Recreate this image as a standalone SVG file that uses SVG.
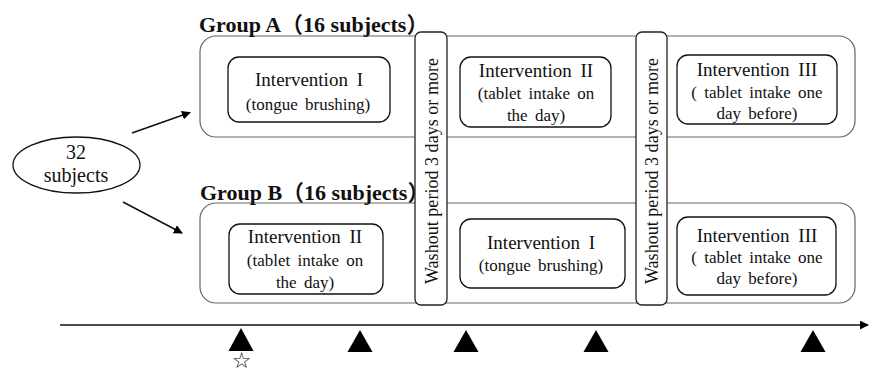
<svg xmlns="http://www.w3.org/2000/svg" width="869" height="373" viewBox="0 0 869 373">
<defs>
<style>
.grp{fill:#fff;stroke:#666;stroke-width:1.2}
.box{fill:#fff;stroke:#111;stroke-width:1.3}
.bar{fill:#fff;stroke:#222;stroke-width:1.3}
.t{font-family:"Liberation Serif","Times New Roman",serif;fill:#111}
.title{font-size:22px;font-weight:bold;font-family:"Liberation Serif","Noto Sans CJK SC",serif;fill:#111}
.h{font-size:19px;text-anchor:middle;word-spacing:4px}
.s{font-size:17px;text-anchor:middle;word-spacing:3px}
.w{font-size:18px;text-anchor:start}
.line{stroke:#111;stroke-width:1.5;fill:none}
.tri{fill:#000}
</style>
<marker id="ah2" viewBox="0 0 10 10" refX="9" refY="5" markerWidth="9" markerHeight="9" orient="auto" markerUnits="userSpaceOnUse">
<path d="M0,0 L10,5 L0,10 z" fill="#000"/>
</marker>
</defs>
<rect width="869" height="373" fill="#fff"/>

<g id="groupA">
<rect class="grp" x="200" y="36" width="655" height="101" rx="16"/>
<text class="title" x="199" y="32">Group A（16 subjects）</text>
</g>
<g id="groupB">
<rect class="grp" x="200" y="203" width="655" height="100" rx="16"/>
<text class="title" x="200" y="200">Group B（16 subjects）</text>
</g>

<g id="washout1">
<rect class="bar" x="415" y="32" width="32" height="273" rx="6"/>
<text class="t w" transform="translate(437.5,284) rotate(-90)" textLength="226" lengthAdjust="spacing">Washout period 3 days or more</text>
</g>
<g id="washout2">
<rect class="bar" x="636" y="32" width="31" height="273" rx="6"/>
<text class="t w" transform="translate(658,284) rotate(-90)" textLength="226" lengthAdjust="spacing">Washout period 3 days or more</text>
</g>

<g id="a1">
<rect class="box" x="228" y="57" width="162" height="65" rx="11"/>
<text class="t h" x="309" y="86">Intervention I</text>
<text class="t s" x="308" y="110">(tongue brushing)</text>
</g>
<g id="a2">
<rect class="box" x="460" y="57" width="151" height="70" rx="11"/>
<text class="t h" x="536" y="77">Intervention II</text>
<text class="t s" x="536" y="99">(tablet intake on</text>
<text class="t s" x="536" y="121">the day)</text>
</g>
<g id="a3">
<rect class="box" x="677" y="55" width="160" height="69" rx="11"/>
<text class="t h" x="757" y="76">Intervention III</text>
<text class="t s" x="757" y="98">( tablet intake one</text>
<text class="t s" x="757" y="119">day before)</text>
</g>

<g id="b1">
<rect class="box" x="229" y="224" width="154" height="70" rx="11"/>
<text class="t h" x="305" y="243">Intervention II</text>
<text class="t s" x="305" y="266">(tablet intake on</text>
<text class="t s" x="305" y="288">the day)</text>
</g>
<g id="b2">
<rect class="box" x="460" y="219" width="165" height="69" rx="11"/>
<text class="t h" x="541" y="249">Intervention I</text>
<text class="t s" x="541" y="271">(tongue brushing)</text>
</g>
<g id="b3">
<rect class="box" x="677" y="217" width="159" height="78" rx="11"/>
<text class="t h" x="757" y="242">Intervention III</text>
<text class="t s" x="757" y="263">( tablet intake one</text>
<text class="t s" x="757" y="284">day before)</text>
</g>

<g id="subjects">
<ellipse cx="76.5" cy="165" rx="63.5" ry="28" fill="#fff" stroke="#111" stroke-width="1.3"/>
<text class="t" x="76" y="159" font-size="20" text-anchor="middle">32</text>
<text class="t" x="76" y="182" font-size="20" text-anchor="middle">subjects</text>
</g>

<g id="timeline">
<polygon class="tri" points="241,328 253.5,351 228.5,351"/>
<polygon class="tri" points="360,330 372.5,352 347.5,352"/>
<polygon class="tri" points="466,330 478.5,352 453.5,352"/>
<polygon class="tri" points="596,330 608.5,352 583.5,352"/>
<polygon class="tri" points="813,330 825.5,352 800.5,352"/>
<text x="241.5" y="368" font-size="22" text-anchor="middle" font-family="DejaVu Sans,sans-serif" fill="#111">☆</text>
</g>

<g id="connectors">
<line class="line" x1="132" y1="133" x2="190" y2="112.5" marker-end="url(#ah2)"/>
<line class="line" x1="123" y1="202" x2="182" y2="233" marker-end="url(#ah2)"/>
<line class="line" x1="60" y1="325" x2="868" y2="325" marker-end="url(#ah2)"/>
</g>
</svg>
